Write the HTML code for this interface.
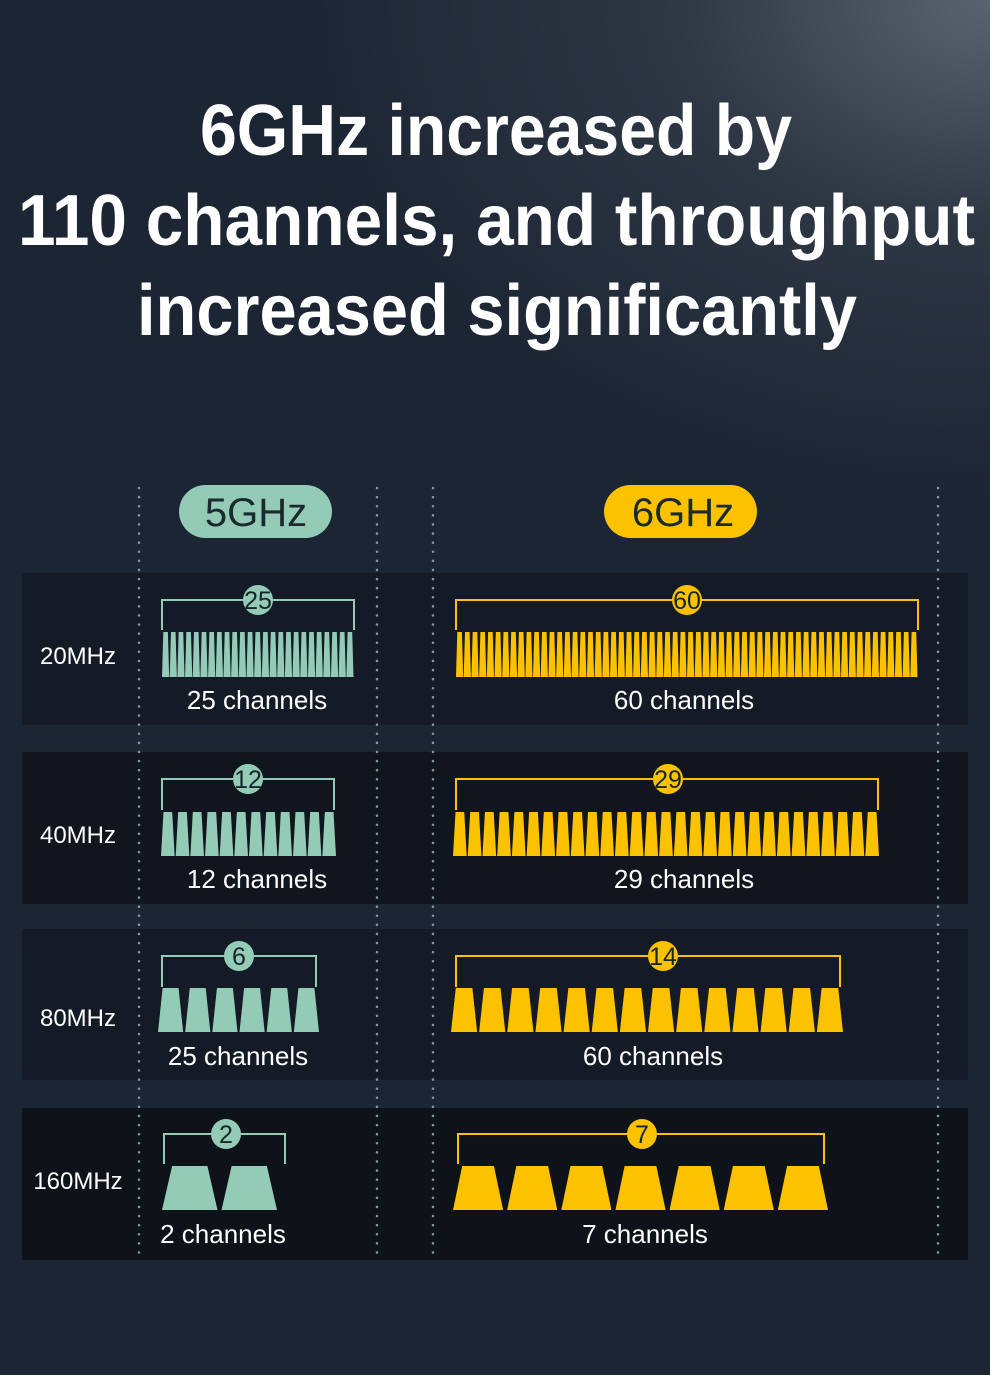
<!DOCTYPE html>
<html><head><meta charset="utf-8"><style>
html,body{margin:0;padding:0;}
body{width:990px;height:1375px;overflow:hidden;background:radial-gradient(ellipse 700px 500px at 990px 0px,#5a6370 0%,#2e3744 45%,rgba(30,38,51,0) 100%),#1c2533;position:relative;font-family:"Liberation Sans",sans-serif;}
svg{position:absolute;left:0;top:0;}
</style></head><body>
<svg id="s" width="990" height="1375" xmlns="http://www.w3.org/2000/svg">
<g fill="#fff" font-family="Liberation Sans, sans-serif" font-size="72" font-weight="bold" text-anchor="start">
<text x="200" y="155" textLength="592" lengthAdjust="spacingAndGlyphs">6GHz increased by</text>
<text x="18" y="245" textLength="957" lengthAdjust="spacingAndGlyphs">110 channels, and throughput</text>
<text x="137" y="335" textLength="720" lengthAdjust="spacingAndGlyphs">increased significantly</text>
</g>
<rect x="22" y="573" width="946" height="152" fill="#141b26"/>
<rect x="22" y="752" width="946" height="152" fill="#10151e"/>
<rect x="22" y="929" width="946" height="151" fill="#141b26"/>
<rect x="22" y="1108" width="946" height="152" fill="#0e1219"/>
<g stroke="#8a93a0" stroke-width="2.5" stroke-dasharray="0.1 9" stroke-linecap="round">
<line x1="139" y1="488" x2="139" y2="1256"/><line x1="377" y1="488" x2="377" y2="1256"/>
<line x1="433" y1="488" x2="433" y2="1256"/><line x1="938" y1="488" x2="938" y2="1256"/>
</g>
<rect x="179" y="485" width="153" height="53" rx="26.5" fill="#93cbb7"/>
<text x="256" y="526" font-size="40" text-anchor="middle" fill="#1b2a2c">5GHz</text>
<rect x="604" y="485" width="153" height="53" rx="26.5" fill="#fcc200"/>
<text x="683" y="526" font-size="40" text-anchor="middle" fill="#1b2a2c">6GHz</text>
<g fill="#fff" font-size="24" text-anchor="middle">
<text x="78" y="664">20MHz</text><text x="78" y="843">40MHz</text><text x="78" y="1026">80MHz</text><text x="78" y="1189">160MHz</text>
</g>
<g id="d"></g>
</svg>
<script>
var d=document.getElementById('d'),h='';
function grp(c,bx1,bx2,by,side,cx,n,x1,x2,y1,y2,tx,ty,label,gap){
 h+='<path d="M'+bx1+' '+side+'V'+by+'H'+bx2+'V'+side+'" fill="none" stroke="'+c+'" stroke-width="2"/>';
 var p=(x2-x1)/n,ins=p*0.17;
 for(var i=0;i<n;i++){var a=x1+i*p,b=a+p-gap;
  h+='<polygon points="'+(a+ins)+','+y1+' '+(b-ins)+','+y1+' '+b+','+y2+' '+a+','+y2+'" fill="'+c+'"/>';}
 h+='<circle cx="'+cx+'" cy="'+by+'" r="15" fill="'+c+'"/>';
 h+='<text x="'+cx+'" y="'+(by+9)+'" font-size="25" text-anchor="middle" fill="#15262a">'+n+'</text>';
 h+='<text x="'+tx+'" y="'+ty+'" font-size="26" text-anchor="middle" fill="#fff">'+label+'</text>';
}
var G='#93cbb7',Y='#fcc200';
grp(G,162,354,600,630,258,25,162,354,632,677,257,709,'25 channels',0.5);
grp(Y,456,918,600,630,687,60,456,918,632,677,684,709,'60 channels',0.5);
grp(G,162,334,779,810,248,12,161,337,812,856,257,888,'12 channels',1);
grp(Y,456,878,779,810,668,29,453,880,812,856,684,888,'29 channels',1);
grp(G,162,316,956,987,239,6,158,321,988,1032,238,1065,'25 channels',2);
grp(Y,456,840,956,987,663,14,451,845,988,1032,653,1065,'60 channels',2);
grp(G,164,285,1134,1164,226,2,162,281,1166,1210,223,1243,'2 channels',4);
grp(Y,458,824,1134,1164,642,7,453,832,1166,1210,645,1243,'7 channels',4);
d.innerHTML=h;
</script>
</body></html>
